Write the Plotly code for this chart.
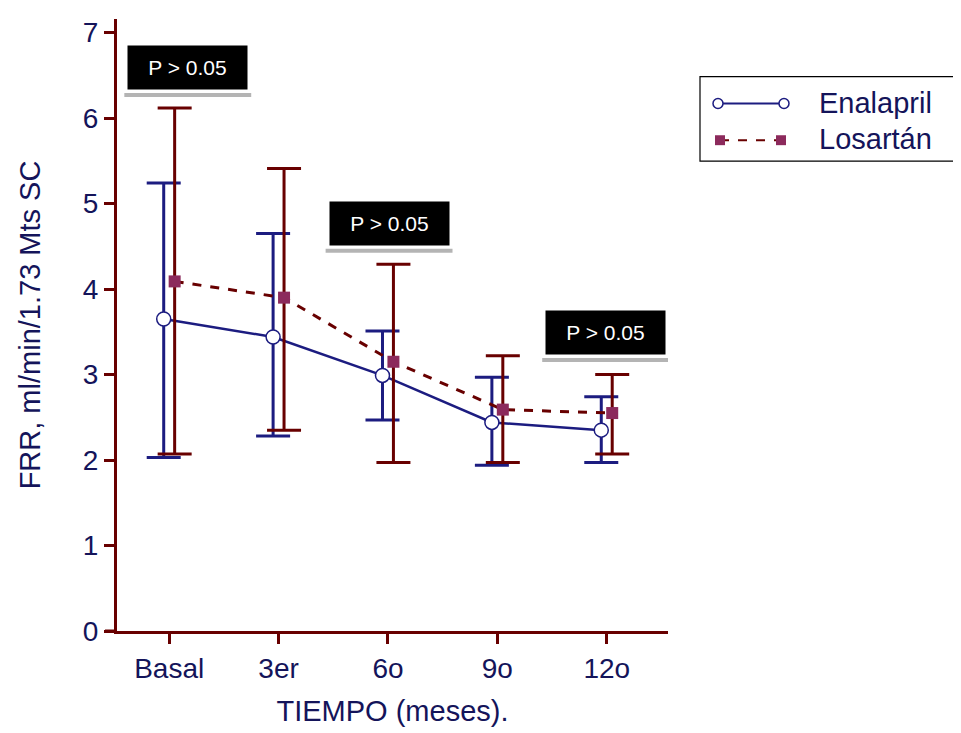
import plotly.graph_objects as go
import numpy as np

categories = ["Basal", "3er", "6o", "9o", "12o"]
enalapril_mean = [3.65, 3.44, 2.99, 2.44, 2.35]
enalapril_upper = [5.24, 4.65, 3.51, 2.97, 2.74]
enalapril_lower = [2.03, 2.28, 2.47, 1.94, 1.97]
losartan_mean = [4.09, 3.90, 3.15, 2.59, 2.55]
losartan_upper = [6.12, 5.41, 4.29, 3.22, 3.00]
losartan_lower = [2.07, 2.35, 1.97, 1.97, 2.07]
y_ticks = [0, 1, 2, 3, 4, 5, 6, 7]
p_labels = ["P > 0.05", "P > 0.05", "P > 0.05"]
series_names = ["Enalapril", "Losartán"]

FONT = "Arial, Liberation Sans, sans-serif"
NAVY = "#1c1c80"
MAROON = "#680000"
SQ = "#8c2a5c"
TXT = "#14145a"

# plot-area geometry in screen pixels (used only to place the hand-drawn legend)
PX0, PX1, PY0, PY1 = 117, 668, 634, 18


def px(x):
    return (x - PX0) / (PX1 - PX0)


def py(y):
    return (PY0 - y) / (PY0 - PY1)


idx = np.arange(len(categories))
off = 0.05

fig = go.Figure()
fig.add_trace(go.Scatter(
    x=idx - off, y=enalapril_mean, name=series_names[0], mode="lines+markers",
    line=dict(color=NAVY, width=2.5),
    marker=dict(symbol="circle", size=14, color="white", line=dict(color=NAVY, width=1.5)),
    error_y=dict(type="data", symmetric=False,
                 array=[u - m for u, m in zip(enalapril_upper, enalapril_mean)],
                 arrayminus=[m - l for m, l in zip(enalapril_mean, enalapril_lower)],
                 color=NAVY, thickness=3, width=17),
))
fig.add_trace(go.Scatter(
    x=idx + off, y=losartan_mean, name=series_names[1], mode="lines+markers",
    line=dict(color=MAROON, width=3, dash="dash"),
    marker=dict(symbol="square", size=12, color=SQ, line=dict(width=0)),
    error_y=dict(type="data", symmetric=False,
                 array=[u - m for u, m in zip(losartan_upper, losartan_mean)],
                 arrayminus=[m - l for m, l in zip(losartan_mean, losartan_lower)],
                 color=MAROON, thickness=3, width=17),
))

# P-value boxes (center x, center y, underline y)
boxes = [(0.17, 6.59, 6.27), (2.01, 4.77, 4.45), (3.99, 3.49, 3.17)]
for (bx, by, ly), txt in zip(boxes, p_labels):
    fig.add_annotation(x=bx, y=by, xref="x", yref="y", text=txt, showarrow=False,
                       bgcolor="black", width=117, height=41,
                       font=dict(family=FONT, size=21, color="white"))
    fig.add_shape(type="line", xref="x", yref="y", x0=bx - 0.58, x1=bx + 0.58,
                  y0=ly, y1=ly, line=dict(color="#b4b4b4", width=4))

# extend x-axis line to the left of the y axis
fig.add_shape(type="line", xref="paper", yref="paper", x0=px(105), x1=0, y0=0, y1=0,
              line=dict(color=MAROON, width=3))

# hand-drawn legend (long sample lines with end markers, as in the original)
fig.add_shape(type="rect", xref="paper", yref="paper", x0=px(700), x1=px(958),
              y0=py(161), y1=py(76), line=dict(color="black", width=1.2), fillcolor="white")
# Enalapril
fig.add_shape(type="line", xref="paper", yref="paper", x0=px(718), x1=px(784),
              y0=py(103), y1=py(103), line=dict(color=NAVY, width=2))
for cx in (718, 784):
    fig.add_shape(type="circle", xref="paper", yref="paper", x0=px(cx - 5), x1=px(cx + 5),
                  y0=py(108), y1=py(98), line=dict(color=NAVY, width=1.5), fillcolor="white")
# Losartán
fig.add_shape(type="line", xref="paper", yref="paper", x0=px(720), x1=px(781),
              y0=py(140), y1=py(140), line=dict(color=MAROON, width=2, dash="dash"))
for cx in (720, 781):
    fig.add_shape(type="rect", xref="paper", yref="paper", x0=px(cx - 5), x1=px(cx + 5),
                  y0=py(145), y1=py(135), line=dict(width=0), fillcolor=SQ)
for name, ty in zip(series_names, (103, 139)):
    fig.add_annotation(x=px(817), y=py(ty), xref="paper", yref="paper", text=name,
                       showarrow=False, xanchor="left", yanchor="middle",
                       font=dict(family=FONT, size=29, color=TXT))

fig.update_xaxes(
    tickvals=idx, ticktext=categories, range=[-0.477, 4.56],
    showline=True, linecolor=MAROON, linewidth=3, ticks="outside",
    ticklen=10, tickwidth=3, tickcolor=MAROON, showgrid=False, zeroline=False,
    tickfont=dict(family=FONT, size=28, color=TXT),
    title=dict(text="TIEMPO (meses).", font=dict(family=FONT, size=29, color=TXT), standoff=19),
)
fig.update_yaxes(
    tickvals=y_ticks, range=[0, 7.16],
    showline=True, linecolor=MAROON, linewidth=3, ticks="outside",
    ticklen=10, tickwidth=3, tickcolor=MAROON, showgrid=False, zeroline=False,
    tickfont=dict(family=FONT, size=28, color=TXT),
    title=dict(text="FRR, ml/min/1.73 Mts SC", font=dict(family=FONT, size=29, color=TXT), standoff=34),
)
fig.update_layout(
    width=953, height=725, paper_bgcolor="white", plot_bgcolor="white",
    margin=dict(l=109, r=293, t=10, b=99),
    showlegend=False,
)
fig.write_html("out.html")
